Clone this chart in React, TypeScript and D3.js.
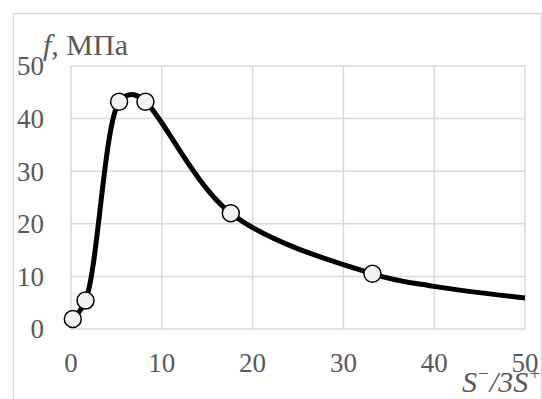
import React, { useEffect, useRef } from 'react';
import { scaleLinear, select, line, curveCatmullRom } from 'd3';

// values
const markerX = [0.2, 1.6, 5.3, 8.2, 17.6, 33.2];
const markerY = [1.9, 5.4, 43.2, 43.2, 22.0, 10.5];

// smooth curve through the markers and on to x = 50
const curveX = [0.2, 1.6, 5.3, 6.7, 8.2, 17.6, 33.2, 40, 50];
const curveY = [1.9, 5.4, 43.2, 44.6, 43.2, 22, 10.5, 8.1, 5.9];

const xTicks = [0, 10, 20, 30, 40, 50];
const yTicks = [0, 10, 20, 30, 40, 50];

function App() {
  const svgRef = useRef<SVGSVGElement>(null);

  const width = 542,
    height = 399;
  const margin = { top: 66, right: 17, bottom: 70, left: 71 };
  const font = "'Times New Roman', 'Liberation Serif', serif";
  const grey = '#595959';
  const gridColor = '#d9d9d9';

  useEffect(() => {
    const svg = select(svgRef.current);
    svg.selectAll('*').remove();

    // outer chart frame
    svg.append('rect')
      .attr('x', 13.5)
      .attr('y', 13.5)
      .attr('width', 528)
      .attr('height', 400)
      .attr('fill', 'white')
      .attr('stroke', gridColor)
      .attr('stroke-width', 1.5);

    const xScale = scaleLinear()
      .domain([0, 50])
      .range([margin.left, width - margin.right]);
    const yScale = scaleLinear()
      .domain([0, 50])
      .range([height - margin.bottom, margin.top]);

    // grid
    svg.append('g')
      .selectAll('line')
      .data(xTicks)
      .join('line')
      .attr('x1', d => xScale(d))
      .attr('x2', d => xScale(d))
      .attr('y1', yScale(0))
      .attr('y2', yScale(50))
      .attr('stroke', gridColor)
      .attr('stroke-width', 1.5);

    svg.append('g')
      .selectAll('line')
      .data(yTicks)
      .join('line')
      .attr('x1', xScale(0))
      .attr('x2', xScale(50))
      .attr('y1', d => yScale(d))
      .attr('y2', d => yScale(d))
      .attr('stroke', gridColor)
      .attr('stroke-width', 1.5);

    // tick labels
    svg.append('g')
      .selectAll('text')
      .data(yTicks)
      .join('text')
      .attr('x', 44)
      .attr('y', d => yScale(d))
      .attr('dy', '0.35em')
      .attr('text-anchor', 'end')
      .style('font-family', font)
      .attr('font-size', 27)
      .attr('fill', grey)
      .text(d => d);

    svg.append('g')
      .selectAll('text')
      .data(xTicks)
      .join('text')
      .attr('x', d => xScale(d))
      .attr('y', 363)
      .attr('dy', '0.35em')
      .attr('text-anchor', 'middle')
      .style('font-family', font)
      .attr('font-size', 27)
      .attr('fill', grey)
      .text(d => d);

    // curve
    const points = curveX.map((x, i) => [x, curveY[i]] as [number, number]);
    const lineGenerator = line<[number, number]>()
      .x(d => xScale(d[0]))
      .y(d => yScale(d[1]))
      .curve(curveCatmullRom.alpha(0.5));

    svg.append('path')
      .datum(points)
      .attr('fill', 'none')
      .attr('stroke', 'black')
      .attr('stroke-width', 5)
      .attr('d', lineGenerator);

    // markers
    svg.append('g')
      .selectAll('circle')
      .data(markerX)
      .join('circle')
      .attr('cx', d => xScale(d))
      .attr('cy', (d, i) => yScale(markerY[i]))
      .attr('r', 8.5)
      .attr('fill', '#f2f2f2')
      .attr('stroke', 'black')
      .attr('stroke-width', 1.5);

    // axis titles
    const yTitle = svg.append('text')
      .attr('x', 43)
      .attr('y', 55)
      .style('font-family', font)
      .attr('font-size', 30)
      .attr('fill', grey);
    yTitle.append('tspan').attr('font-style', 'italic').text('f');
    yTitle.append('tspan').text(', МПа');

    const xTitle = svg.append('text')
      .attr('x', 462)
      .attr('y', 392)
      .style('font-family', font)
      .attr('font-size', 30)
      .attr('font-style', 'italic')
      .attr('fill', grey);
    xTitle.append('tspan').text('S');
    xTitle.append('tspan').attr('font-size', 19).attr('dy', -12).text('−');
    xTitle.append('tspan').attr('dy', 12).text('/3S');
    xTitle.append('tspan').attr('font-size', 19).attr('dy', -12).text('+');
  }, []);

  return (
    <svg
      ref={svgRef}
      width={width}
      height={height}
      style={{ position: 'absolute', left: 0, top: 0 }}
    ></svg>
  );
}

export default App;
